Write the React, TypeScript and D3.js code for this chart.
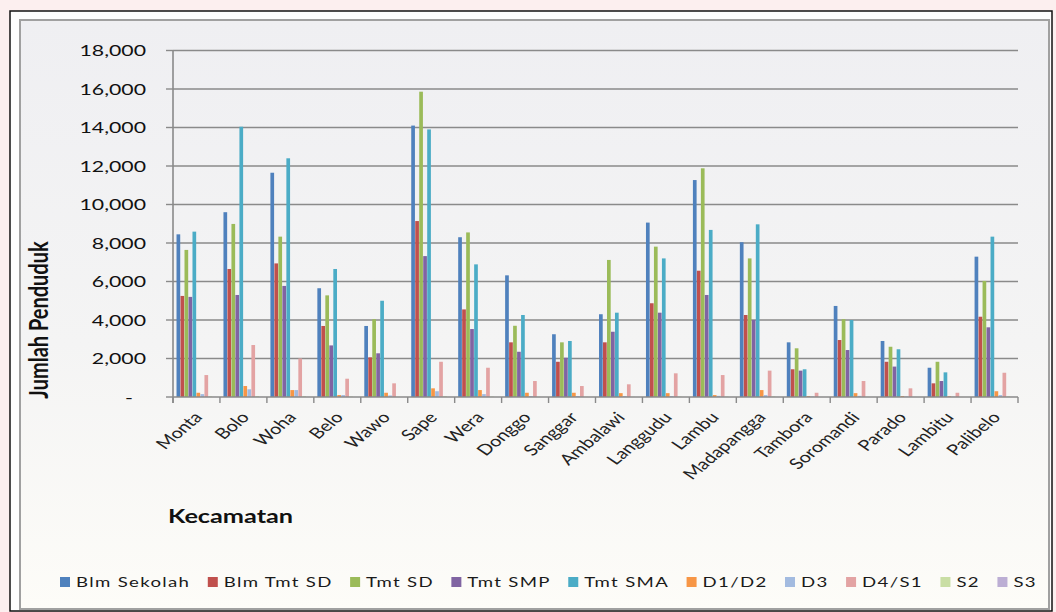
import React, { useEffect, useRef } from "react";
import * as d3 from "d3";

// Kecamatan (districts) along the x axis
const categories = [
  "Monta", "Bolo", "Woha", "Belo", "Wawo", "Sape", "Wera", "Donggo", "Sanggar",
  "Ambalawi", "Langgudu", "Lambu", "Madapangga", "Tambora", "Soromandi", "Parado",
  "Lambitu", "Palibelo",
];

// Education level series
const seriesNames = [
  "Blm Sekolah", "Blm Tmt SD", "Tmt SD", "Tmt SMP", "Tmt SMA",
  "D1/D2", "D3", "D4/S1", "S2", "S3",
];
const seriesColors = [
  "#4f81bd", "#c0504d", "#9bbb59", "#8064a2", "#4bacc6",
  "#f79646", "#a3bbe0", "#e3a3a3", "#c9dea4", "#bcaed4",
];

const blmSekolah = [8450, 9600, 11650, 5650, 3690, 14100, 8300, 6320, 3260, 4300, 9060, 11270, 8040, 2840, 4730, 2910, 1520, 7290];
const blmTmtSD = [5250, 6650, 6940, 3690, 2060, 9140, 4550, 2840, 1830, 2840, 4870, 6560, 4260, 1440, 2960, 1830, 710, 4170];
const tmtSD = [7640, 8990, 8330, 5280, 4040, 15860, 8550, 3700, 2840, 7120, 7810, 11880, 7200, 2530, 4040, 2610, 1830, 6030];
const tmtSMP = [5200, 5300, 5770, 2680, 2270, 7320, 3530, 2350, 2040, 3390, 4380, 5300, 4000, 1370, 2440, 1580, 830, 3620];
const tmtSMA = [8590, 14040, 12400, 6650, 5000, 13900, 6890, 4260, 2910, 4380, 7200, 8680, 8970, 1440, 4000, 2480, 1280, 8330];
const d1d2 = [220, 570, 360, 100, 220, 450, 360, 220, 220, 200, 200, 100, 360, 50, 200, 50, 40, 300];
const d3Values = [150, 400, 360, 100, 80, 300, 150, 50, 50, 50, 50, 60, 100, 30, 60, 30, 20, 100];
const d4s1 = [1140, 2700, 2000, 950, 710, 1830, 1520, 830, 570, 660, 1230, 1140, 1370, 220, 830, 450, 220, 1260];
const s2 = [30, 40, 40, 20, 10, 40, 20, 10, 10, 10, 20, 20, 30, 5, 10, 5, 5, 30];
const s3 = [5, 5, 5, 0, 0, 5, 0, 0, 0, 0, 0, 0, 5, 0, 0, 0, 0, 5];

const seriesValues = [blmSekolah, blmTmtSD, tmtSD, tmtSMP, tmtSMA, d1d2, d3Values, d4s1, s2, s3];

const yTicks = [0, 2000, 4000, 6000, 8000, 10000, 12000, 14000, 16000, 18000];

const W = 1056;
const H = 612;
const SX = 1.33; // horizontal text stretch
const FONT = "Lato, 'Open Sans', sans-serif";

export default function App() {
  const ref = useRef<SVGSVGElement>(null);

  useEffect(() => {
    const svg = d3.select(ref.current);
    svg.selectAll("*").remove();

    const defs = svg.append("defs");
    const bg = defs.append("linearGradient").attr("id", "bgGrad").attr("x1", 0).attr("y1", 0).attr("x2", 0).attr("y2", 1);
    bg.append("stop").attr("offset", "0%").attr("stop-color", "#efeff2");
    bg.append("stop").attr("offset", "55%").attr("stop-color", "#f4f4f4");
    bg.append("stop").attr("offset", "100%").attr("stop-color", "#fdfcf8");

    // page and frames
    svg.append("rect").attr("width", W).attr("height", H).attr("fill", "#fcefef");
    svg.append("rect").attr("x", 10).attr("y", 11).attr("width", 1042).attr("height", 600)
      .attr("fill", "#fdfdfd").attr("stroke", "#111").attr("stroke-width", 1.5);
    svg.append("rect").attr("x", 20).attr("y", 20).attr("width", 1029).attr("height", 589)
      .attr("fill", "url(#bgGrad)").attr("stroke", "#a0a0a0").attr("stroke-width", 2);

    const left = 173, right = 1018, top = 50.5, bottom = 397;

    const x0 = d3.scaleBand<string>().domain(categories).range([left, right]).padding(0);
    const bw = x0.bandwidth();
    const inset = bw * 0.075;
    const x1 = d3.scaleBand<string>().domain(seriesNames).range([inset, bw - inset]).padding(0);
    const y = d3.scaleLinear().domain([0, 18000]).range([bottom, top]);

    const grid = "#8a8a8a";

    // gridlines and y ticks
    const yg = svg.append("g");
    yTicks.forEach((t) => {
      if (t > 0) {
        yg.append("line").attr("x1", left).attr("x2", right).attr("y1", y(t)).attr("y2", y(t))
          .attr("stroke", grid).attr("stroke-width", 1.6);
      }
      yg.append("line").attr("x1", left - 7).attr("x2", left).attr("y1", y(t)).attr("y2", y(t))
        .attr("stroke", grid).attr("stroke-width", 1.4);
      yg.append("text")
        .attr("transform", `translate(${t === 0 ? 133 : 146},${y(t)}) scale(${SX},1)`)
        .attr("text-anchor", "end").attr("dy", "0.36em")
        .attr("font-family", FONT).attr("font-size", 16).attr("fill", "#111")
        .text(t === 0 ? "-" : d3.format(",")(t));
    });

    // bars
    const bars = svg.append("g");
    categories.forEach((c, ci) => {
      seriesNames.forEach((s, si) => {
        const v = seriesValues[si][ci];
        bars.append("rect")
          .attr("x", (x0(c) as number) + (x1(s) as number))
          .attr("y", y(v))
          .attr("width", x1.bandwidth() - 0.3)
          .attr("height", bottom - y(v))
          .attr("fill", seriesColors[si]);
      });
    });

    // axes lines
    svg.append("line").attr("x1", left).attr("x2", left).attr("y1", top).attr("y2", bottom + 6)
      .attr("stroke", grid).attr("stroke-width", 1.6);
    svg.append("line").attr("x1", left).attr("x2", right).attr("y1", bottom).attr("y2", bottom)
      .attr("stroke", grid).attr("stroke-width", 1.6);
    const boundaries = categories.map((c) => x0(c) as number).concat([right]);
    boundaries.forEach((bx) => {
      svg.append("line").attr("x1", bx).attr("x2", bx).attr("y1", bottom).attr("y2", bottom + 6)
        .attr("stroke", grid).attr("stroke-width", 1.4);
    });

    // category labels
    categories.forEach((c) => {
      const cx = (x0(c) as number) + bw / 2;
      svg.append("text")
        .attr("transform", `translate(${cx + 7},${bottom + 21}) scale(${SX},1) rotate(-48)`)
        .attr("text-anchor", "end")
        .attr("font-family", FONT).attr("font-size", 15).attr("fill", "#222")
        .text(c);
    });

    // axis titles
    svg.append("text")
      .attr("transform", `translate(168,523) scale(${SX},1)`)
      .attr("font-family", FONT).attr("font-size", 19).attr("font-weight", "bold").attr("fill", "#111")
      .text("Kecamatan");
    svg.append("text")
      .attr("transform", `translate(48,320) scale(${SX},1) rotate(-90)`)
      .attr("text-anchor", "middle")
      .attr("font-family", FONT).attr("font-size", 20).attr("font-weight", "bold").attr("fill", "#111")
      .text("Jumlah Penduduk");

    // legend
    const lg = svg.append("g");
    const items = seriesNames.map((s, i) => {
      const g = lg.append("g");
      g.append("rect").attr("width", 10).attr("height", 10).attr("y", -5).attr("fill", seriesColors[i]);
      const t = g.append("text")
        .attr("transform", `translate(16,0) scale(${SX},1)`)
        .attr("dy", "0.36em")
        .attr("font-family", FONT).attr("font-size", 14).attr("letter-spacing", 1).attr("fill", "#1a1a1a")
        .text(s);
      const tw = (t.node() as SVGTextElement).getBBox().width * SX;
      return { g, w: 16 + tw };
    });
    const span = 1037 - 60;
    const total = d3.sum(items, (d) => d.w);
    const gap = (span - total) / (items.length - 1);
    let cx = 60;
    items.forEach((it) => {
      it.g.attr("transform", `translate(${cx},582)`);
      cx += it.w + gap;
    });
  }, []);

  return (
    <svg
      ref={ref}
      width={W}
      height={H}
      style={{ position: "absolute", left: 0, top: 0, display: "block" }}
    />
  );
}
